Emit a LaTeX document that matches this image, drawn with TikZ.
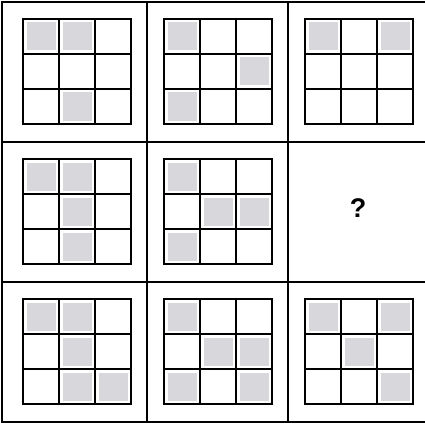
\documentclass[tikz,border=0pt]{standalone}
\usepackage{fontspec}
\setmainfont{Liberation Sans}
\definecolor{cellgray}{RGB}{216,216,220}
\newcommand{\puzzlepanel}[3]{%
  \foreach \r/\c in {#3} {%
    \fill[cellgray] ({#1+\c*36+3.5},{#2+\r*35+3.5}) rectangle ({#1+\c*36+32.5},{#2+\r*35+31.5});
  }%
  \draw[gridline] (#1,#2) rectangle ++(108,105);
  \foreach \i in {1,2} {%
    \draw[gridline] ({#1+\i*36},#2) -- ({#1+\i*36},{#2+105});
    \draw[gridline] (#1,{#2+\i*35}) -- ({#1+108},{#2+\i*35});
  }%
}
\begin{document}
\begin{tikzpicture}[x=1pt,y=-1pt,
  frameline/.style={line width=2pt,black},
  gridline/.style={line width=2.6pt,black,line cap=rect}]
\useasboundingbox[fill=white] (0,0) rectangle (424,425);
% outer frame and panel dividers
\draw[frameline] (2,2) rectangle (428,422);
\draw[frameline] (147,2) -- (147,422);
\draw[frameline] (288,2) -- (288,422);
\draw[frameline] (2,142) -- (428,142);
\draw[frameline] (2,282) -- (428,282);
% row 1
\puzzlepanel{23}{19}{0/0,0/1,2/1}
\puzzlepanel{164}{19}{0/0,1/2,2/0}
\puzzlepanel{305}{19}{0/0,0/2}
% row 2
\puzzlepanel{23}{159}{0/0,0/1,1/1,2/1}
\puzzlepanel{164}{159}{0/0,1/1,1/2,2/0}
\node[font=\bfseries\fontsize{27}{27}\selectfont] (q) at (358,208) {?};
% row 3
\puzzlepanel{23}{299}{0/0,0/1,1/1,2/1,2/2}
\puzzlepanel{164}{299}{0/0,1/1,1/2,2/0,2/2}
\puzzlepanel{305}{299}{0/0,0/2,1/1,2/2}
\end{tikzpicture}
\end{document}
